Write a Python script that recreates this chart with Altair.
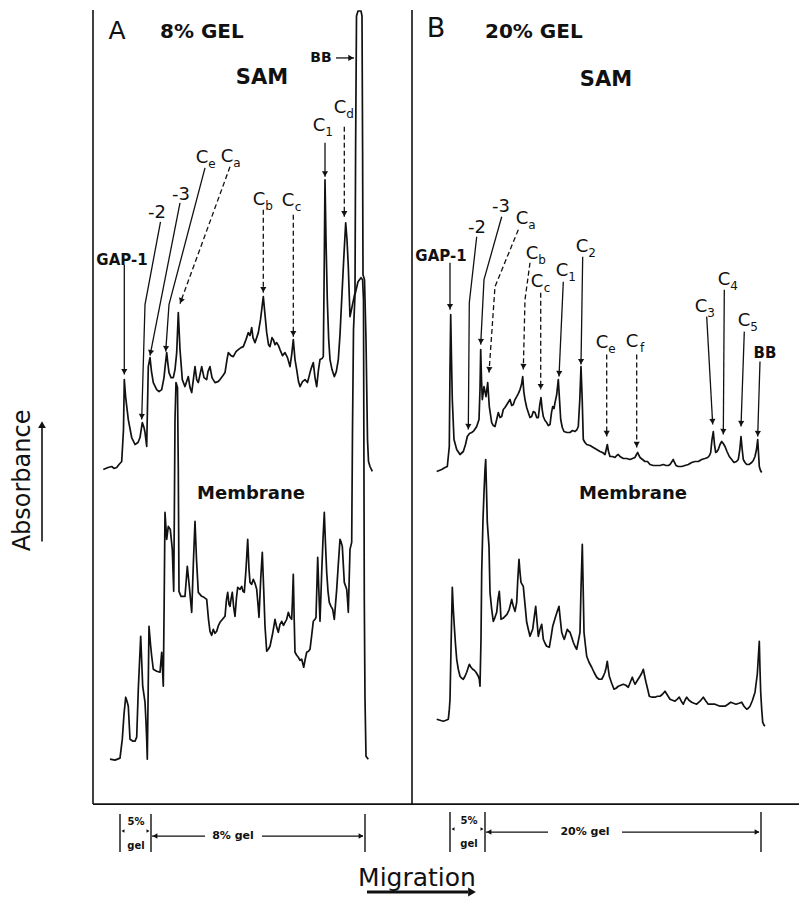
import math
import altair as alt
import pandas as pd

# ---------------- densitometer traces (migration position, pen deflection) ----------------
samA_x = [103.3,108,111.7,114,116.7,119,121.7,123.5,124.3,125.7,128.3,131.7,135,138,140,142.3,144,145,146.7,148.3,150,151.5,153.3,156.7,159,161.7,164,165,166.7,168,169,171,173.3,175,176.7,178.3,180,182.3,185,188.3,190,191.7,195,196.7,198.3,201.7,204,206.7,208,210,212,215,218,220,223,225,227,228.3,231,233.3,236,238.3,241,243.3,246,248.3,250,251.7,253,255,256.7,258.3,260.5,263.3,265,266.7,268.5,270,272,273.3,275,276.7,278.5,280,282.5,285,287.5,290,291.7,293.3,295,296.7,298.5,300,302.5,305,307.5,310,311.5,313.3,315,316.7,318.5,320,322,323.3,324.3,325,326,327.3,328.7,330,332,334.3,336.3,338.3,340,341.7,343.7,345.7,347,348.3,350,352.5,355,355.6,356.5,358,361,362,362.6,363,364.5,366,367.5,368.5,370,372.3]
samA_y = [470,468,467,469,468,465,462,430,380,398,420,438,445,443,438,423,428,433,447,367,358,372,383,390,392,390,378,368,353,365,373,378,378,370,353,313,350,380,387,377,388,393,367,380,383,367,378,380,372,367,378,383,382,380,376,373,360,353,356,357,352,350,348,347,340,333,336,328,338,343,338,333,320,297,315,333,345,347,338,340,345,343,346,350,356,353,358,367,355,340,360,370,382,387,382,380,383,373,368,363,378,387,370,360,359,357,260,180,240,300,340,360,370,377,372,360,335,300,260,223,240,267,317,305,293,150,16,11,11,16,150,275,280,340,440,462,467,472]

memA_x = [110,115,120,122.3,124,125.7,127,128.3,130,133,135,136.7,138.3,140.7,142.7,145,146,146.7,147.3,148.2,149,150.5,151.7,153.3,156.7,160,161.7,163.3,164.2,165,166.7,168.3,170.3,172.3,173.7,174.3,175,176,177.5,178.3,179,181,183.5,185,187.3,189.3,191.7,193.5,195,196.5,198.3,201.7,204,206.7,208.5,210,211.7,213.3,215,216.7,218.5,220,222.5,225,226.5,227.7,229,230,231.3,232.3,233.7,235,236.5,237.7,240,241.7,243,244.3,246,247.7,249,250,251.7,253.3,255,256.7,258,259,260.7,262.3,263.7,265,266.7,268.3,270,272.5,275,276.7,278.3,280,281.7,283.5,285,286.7,288.3,290,291.7,292.5,293.3,294.2,295,296.7,298.3,300,301.7,303.7,305.2,306.7,308.5,310,311.7,313.3,315,316,317.7,318.8,320,320.8,321.7,323,324.3,325.5,326.7,328,329.3,331,332.7,334.3,335.5,336.7,338.3,340,341.2,342.3,343.3,344.3,346.7,347.5,348.3,349.2,350,351.7,352.5,353.5,355,358,361,362.6,363.5,364.3,365,366,368.3]
memA_y = [760,761,759,740,715,698,702,707,740,742,742,738,690,637,687,703,723,740,760,690,627,645,657,670,672,673,653,687,600,513,540,527,530,550,592,520,420,383,388,470,592,597,597,597,567,587,613,560,522,560,593,597,598,600,620,632,636,630,634,632,626,623,620,617,600,593,605,607,598,593,608,617,598,588,590,587,592,593,570,540,570,583,585,580,584,590,605,618,580,553,590,627,652,650,647,635,620,628,633,625,622,626,623,620,613,618,620,600,575,620,653,656,658,661,660,668,660,653,652,650,636,622,620,618,558,590,622,600,573,540,513,545,573,592,603,607,610,620,605,590,565,540,543,547,565,583,590,600,613,580,550,543,430,330,295,282,278,280,300,600,700,757,760]

samB_x = [436.7,441.7,445,447.3,449.3,450,450.7,451.5,452.3,454,456.7,460,463.3,465.5,467.3,469.5,471.7,474,476.7,479,480,480.7,481.5,482.3,484,486,487.7,489.3,491.7,493.3,495,496.7,498.3,500,501.7,503.3,505,507.5,510,511.7,513.3,515,516.7,518.3,520,521.5,522.7,523.8,525,526.7,528.3,530,531.7,533.3,535,536.7,538.3,539.8,541,542.2,543.3,545,546.7,548.3,550,551.5,552.7,554,555,556.7,558.3,559.5,560.7,562.3,564,567,570,572.5,575,577,578.3,579.8,581,582.2,583.3,585,586.7,590,593.3,596.7,600,602.5,605,606.2,607.3,608.5,610,612.5,615,616.7,618.3,620,623.3,626.7,630,632.5,635,636.5,637.7,639,640,642.5,645,647.5,650,653.3,656.7,660,663.3,666,668.3,670,672,673.3,674.5,676,678.3,681.7,685,688.3,691.7,695,698.3,701.7,705,707.7,709.5,710.7,712,713.3,714.5,715.7,717,718.3,720,721.7,723.3,725,727,729.3,731.7,734,736.5,738.3,739.8,741,742.2,743.3,745,746.7,749,751.7,753.3,755,756.5,757.7,758.6,759.3,760.5,761.7]
samB_y = [472,470,468,467,447,370,315,360,400,440,450,455,452,445,437,434,433,431,427,420,390,350,380,400,387,397,383,407,423,426,427,420,413,418,417,410,408,404,400,406,405,400,397,394,390,385,377,392,400,408,413,418,417,412,413,418,418,405,398,410,417,421,423,426,425,413,407,409,403,395,380,400,420,428,432,433,433,431,432,430,427,400,367,400,440,443,445,446,448,450,452,453,455,450,445,452,457,457,458,456,455,457,459,459,460,459,458,455,453,456,458,460,462,462,465,466,466,466,465,466,466,465,462,460,463,466,467,467,466,465,463,462,462,460,459,458,456,453,440,432,445,453,452,450,445,442,444,447,452,457,460,463,462,460,450,437,450,460,463,465,465,463,461,457,450,440,455,467,471,473]

memB_x = [436.7,440,443.3,446,448.3,449.2,450,451,452.3,453.3,454.3,455.5,456.7,458.3,460,461.7,463.3,465,466.7,468,469.3,471,472.7,474.3,476,478.3,479.3,480,481,481.7,483,484,485,485.7,486.5,487.3,489,490,491.7,493.3,495,496.7,498,499.3,500.2,501,503,505,507,509.3,510.5,511.7,513.3,515,516.7,517.8,519,520,521,523.3,525,526.7,528.3,530,531.5,532.7,534.2,535.7,537,538.3,540,541.7,542.5,543.3,545,546.7,549.3,551,552.7,554.2,555.7,557.3,559,560.3,561.7,563,564.3,565.8,567.3,568.7,570,571.7,573.3,575,576.7,578.3,580,581,582.3,583.2,584,585.3,586.7,589,591.7,594,596.7,599,601.7,603.3,605,606.2,607.3,608.3,609.3,611.7,614,616,618.3,620.8,623.3,625.8,628.3,630.3,632.3,633.7,635,637.5,640,641.7,643.3,644.7,646,647.7,649.3,652,655,657.5,660,662.5,665,667.5,670,672.5,675,677.3,679.3,681.3,683.3,685,686.7,689,691.7,694,696.7,700,703.3,706,708.3,711.7,715,717.5,720,722.5,725,728,730.7,733.3,736,739,741.7,744,746.7,748.3,750,752.5,755,757.3,759.3,760,760.7,761.7,762.7,764,765]
memB_y = [720,721,722,721,720,712,700,650,588,610,627,645,660,670,677,679,680,677,673,669,665,668,670,671,673,677,680,687,640,573,520,493,470,460,490,523,547,593,610,622,618,613,600,592,605,620,619,617,615,610,605,600,607,612,603,580,560,573,583,587,605,623,630,637,633,630,618,607,622,637,630,625,632,640,644,647,648,638,627,622,617,612,607,620,633,637,640,635,630,632,633,638,643,647,650,642,633,590,545,590,633,645,657,663,668,673,678,680,680,677,673,668,662,670,677,684,690,689,687,686,685,686,688,683,678,682,685,681,677,674,670,677,683,690,697,698,698,697,697,695,692,696,700,701,702,700,698,702,705,701,698,701,703,704,705,702,698,702,705,705,705,706,707,707,707,705,703,704,705,704,703,707,710,709,707,701,693,675,642,670,693,710,723,726,727]

# ---------------- peak annotation arrows: (id, style, xs, ys) ----------------
arrows = [
    ("A_gap", "solid", [124.3, 124.3], [265, 375]),
    ("A_m2", "solid", [160.5, 145, 141.7], [222, 305, 420]),
    ("A_m3", "solid", [180, 150], [203, 356]),
    ("A_ce", "solid", [205, 169, 165.7], [168, 305, 352]),
    ("A_ca", "dashed", [230, 180], [167, 304]),
    ("A_cb", "dashed", [263.3, 263.3], [210, 293]),
    ("A_cc", "dashed", [293.3, 293.3], [215, 337]),
    ("A_c1", "solid", [325, 325], [143, 177]),
    ("A_cd", "dashed", [344.3, 344.3], [127, 217]),
    ("A_bb", "solid", [336, 354], [58, 58]),
    ("B_gap", "solid", [450, 450], [263, 310]),
    ("B_m2", "solid", [476.7, 469.3, 468.3], [237, 303, 430]),
    ("B_m3", "solid", [501.7, 484, 480.7], [217, 280, 345]),
    ("B_ca", "dashed", [518.3, 495, 489], [230, 287, 373]),
    ("B_cb", "dashed", [530, 525, 523.3], [263, 300, 370]),
    ("B_cc", "dashed", [540.7, 540.7], [293, 390]),
    ("B_c1", "solid", [563.3, 559], [282, 377]),
    ("B_c2", "solid", [582.7, 581], [257, 365]),
    ("B_ce", "dashed", [606.7, 606.7], [355, 437]),
    ("B_cf", "dashed", [636.7, 636.7], [355, 448]),
    ("B_c3", "solid", [706.7, 712.7], [317, 425]),
    ("B_c4", "solid", [724.3, 723.3], [290, 435]),
    ("B_c5", "solid", [744.3, 741], [332, 427]),
    ("B_bb", "solid", [760, 757.7], [362, 437]),
]

# ---------------- text: (text, x, y, size) ----------------
normal_txt = [
    ("A", 117, 31, 25), ("B", 436, 29, 27),
    ("-2", 157, 213, 18), ("-3", 181, 195, 18),
    ("-2", 477, 228, 18), ("-3", 501, 207, 18),
    ("Migration", 417, 879, 25),
]
c_labels = [  # (subscript, x of C, y of C)
    ("e", 202, 158), ("a", 227, 157), ("b", 259, 200), ("c", 288, 201),
    ("1", 319, 126), ("d", 340, 108),
    ("a", 522, 219), ("b", 532, 254), ("c", 537, 282), ("1", 562, 271),
    ("2", 582, 247), ("e", 602, 343), ("f", 632, 342), ("3", 701, 307),
    ("4", 724, 280), ("5", 744, 321),
]
bold_txt = [
    ("GAP-1", 122, 260, 15), ("GAP-1", 441, 256, 15),
    ("BB", 321, 58, 14), ("BB", 765, 353, 15),
    ("SAM", 262, 78, 21), ("SAM", 606, 80, 21),
    ("Membrane", 251, 495, 18), ("Membrane", 633, 495, 18),
    ("8% gel", 233, 837, 11), ("20% gel", 585, 833, 11),
    ("5%", 136, 823, 10), ("gel", 136, 847, 10),
    ("5%", 469, 822, 10), ("gel", 469, 845, 10),
]
bold_left_txt = [("8% GEL", 160, 32, 20), ("20% GEL", 485, 32, 20)]

# ---------------- frame, gel brackets and axis arrows: (x, y, x2, y2, width) ----------------
rules = [
    (93, 10, 93, 805, 1.6), (412, 10, 412, 805, 1.6), (93, 805, 799, 805, 1.6),
    (120, 815, 120, 853, 1.4), (151, 815, 151, 853, 1.4), (365, 815, 365, 853, 1.4),
    (152, 837, 205, 837, 1.2), (262, 837, 363, 837, 1.2),
    (450, 813, 450, 853, 1.4), (485, 813, 485, 853, 1.4), (761, 813, 761, 853, 1.4),
    (486, 833, 548, 833, 1.2), (622, 833, 759, 833, 1.2),
    (42, 542, 42, 428, 1.6),
    (367, 893, 468, 893, 3.0),
]
# extra arrowheads: (x, y, angle, size)
heads = [
    (155, 837, 90, 30), (361, 837, 270, 30),
    (123, 832, 90, 12), (148, 832, 270, 12),
    (489, 833, 90, 30), (757, 833, 270, 30),
    (453, 830, 90, 12), (482, 830, 270, 12),
    (42, 425, 180, 60), (472, 893, 270, 80),
]

# ---------------- build tables ----------------
rows = []
for name, xs, ys in [("samA", samA_x, samA_y), ("memA", memA_x, memA_y),
                     ("samB", samB_x, samB_y), ("memB", memB_x, memB_y)]:
    for i, (a, b) in enumerate(zip(xs, ys)):
        rows.append({"trace": name, "i": i, "x": a, "y": b})
traces = pd.DataFrame(rows)

arows, hrows = [], []
for aid, style, xs, ys in arrows:
    for i, (a, b) in enumerate(zip(xs, ys)):
        arows.append({"id": aid, "style": style, "i": i, "x": a, "y": b})
    dx, dy = xs[-1] - xs[-2], ys[-1] - ys[-2]
    L = math.hypot(dx, dy)
    ang = math.degrees(math.atan2(-dx, dy)) % 360
    hrows.append({"x": xs[-1] - 3 * dx / L, "y": ys[-1] - 3 * dy / L, "ang": ang, "sz": 38})
for x, y, a, s in heads:
    hrows.append({"x": x, "y": y, "ang": a, "sz": s})
arrow_df = pd.DataFrame(arows)
head_df = pd.DataFrame(hrows)

rule_df = pd.DataFrame(rules, columns=["x", "y", "x2", "y2", "w"])
norm_df = pd.DataFrame(normal_txt, columns=["t", "x", "y", "s"])
cmain_df = pd.DataFrame([("C", x, y, 18) for _, x, y in c_labels], columns=["t", "x", "y", "s"])
csub_df = pd.DataFrame([(s, x + 10, y + 6, 12) for s, x, y in c_labels], columns=["t", "x", "y", "s"])
bold_df = pd.DataFrame(bold_txt, columns=["t", "x", "y", "s"])
boldl_df = pd.DataFrame(bold_left_txt, columns=["t", "x", "y", "s"])
absorb_df = pd.DataFrame([("Absorbance", 23, 481, 24)], columns=["t", "x", "y", "s"])

xs_ = alt.Scale(domain=[8, 800], nice=False, zero=False)
ys_ = alt.Scale(domain=[8, 897], nice=False, zero=False, reverse=True)
X = alt.X("x:Q", scale=xs_, axis=None)
Y = alt.Y("y:Q", scale=ys_, axis=None)
FONT = "DejaVu Sans"

trace_layer = alt.Chart(traces).mark_line(color="#111", strokeWidth=1.7, strokeJoin="round").encode(
    x=X, y=Y, detail="trace:N", order="i:Q")
solid_layer = alt.Chart(arrow_df).transform_filter("datum.style == 'solid'").mark_line(
    color="#111", strokeWidth=1.3).encode(x=X, y=Y, detail="id:N", order="i:Q")
dash_layer = alt.Chart(arrow_df).transform_filter("datum.style == 'dashed'").mark_line(
    color="#111", strokeWidth=1.3, strokeDash=[5, 3]).encode(x=X, y=Y, detail="id:N", order="i:Q")
head_layer = alt.Chart(head_df).mark_point(shape="triangle-down", filled=True, color="#111", opacity=1).encode(
    x=X, y=Y, angle=alt.Angle("ang:Q", scale=None), size=alt.Size("sz:Q", scale=None))
rule_layer = alt.Chart(rule_df).mark_rule(color="#111").encode(
    x=X, y=Y, x2="x2:Q", y2="y2:Q", strokeWidth=alt.StrokeWidth("w:Q", scale=None))


def txt(df, weight="normal", align="center", angle=0):
    return alt.Chart(df).mark_text(font=FONT, fontWeight=weight, align=align, baseline="middle",
                                   color="#111", angle=angle).encode(
        x=X, y=Y, text="t:N", size=alt.Size("s:Q", scale=None))


chart = alt.layer(
    rule_layer, trace_layer, solid_layer, dash_layer, head_layer,
    txt(norm_df), txt(cmain_df), txt(csub_df), txt(bold_df, "bold"),
    txt(boldl_df, "bold", "left"), txt(absorb_df, angle=270),
).properties(
    width=792, height=889, padding=0, background="white",
    autosize=alt.AutoSizeParams(type="fit", contains="padding"),
).configure_view(stroke=None)

chart.save("out.html", embed_options={"renderer": "svg", "actions": False})
